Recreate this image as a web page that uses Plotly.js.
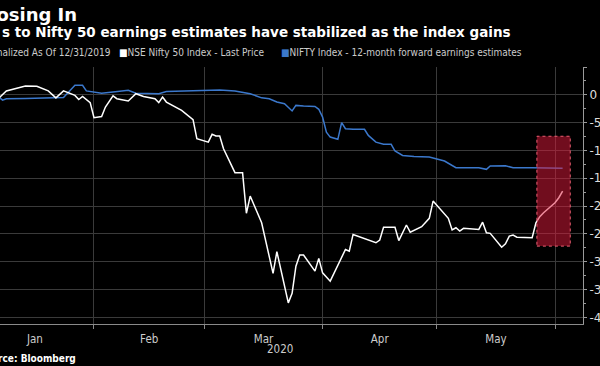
<!DOCTYPE html>
<html>
<head>
<meta charset="utf-8">
<script src="https://cdn.plot.ly/plotly-3.0.1.min.js"></script>
<style>
  html, body { margin: 0; padding: 0; background: #000; overflow: hidden; width: 600px; height: 366px; }
  #chart { position: absolute; left: -40px; top: 0; width: 680px; height: 366px; }
</style>
</head>
<body>
<div id="chart"></div>
<script>
// NSE Nifty 50 Index - Last Price, normalized (% change since 12/31/2019)
const niftyDates = ['2019-12-31','2020-01-07','2020-01-09','2020-01-14','2020-01-17','2020-01-20','2020-01-22','2020-01-24','2020-01-27','2020-01-28','2020-01-29','2020-01-31',
  '2020-02-01','2020-02-03','2020-02-04','2020-02-06','2020-02-07','2020-02-10','2020-02-12','2020-02-14','2020-02-17','2020-02-18','2020-02-19','2020-02-20','2020-02-24','2020-02-27','2020-02-28',
  '2020-03-02','2020-03-03','2020-03-04','2020-03-05','2020-03-06','2020-03-09','2020-03-11','2020-03-12','2020-03-13','2020-03-16','2020-03-17','2020-03-18','2020-03-19','2020-03-20','2020-03-23','2020-03-24','2020-03-25','2020-03-26','2020-03-27','2020-03-30','2020-03-31',
  '2020-04-01','2020-04-03','2020-04-07','2020-04-08','2020-04-09','2020-04-15','2020-04-16','2020-04-17','2020-04-20','2020-04-21','2020-04-23','2020-04-24','2020-04-27','2020-04-29','2020-04-30',
  '2020-05-04','2020-05-05','2020-05-06','2020-05-07','2020-05-08','2020-05-12','2020-05-13','2020-05-14','2020-05-15','2020-05-18','2020-05-19','2020-05-20','2020-05-21','2020-05-22','2020-05-26','2020-05-27','2020-05-28','2020-05-29',
  '2020-06-01','2020-06-02','2020-06-03'];
const niftyValues = [0,-0.6,0.7,1.6,1.55,0.7,-0.55,0.7,-0.1,-0.85,-0.3,-1.4,
  -4.1,-3.9,-2.2,-0.2,-0.7,-1.1,0.2,-0.3,-0.7,-1.4,-0.4,-1.3,-2.8,-4.45,-7.9,
  -8.5,-7.1,-7.4,-7.4,-9.7,-14.0,-14.0,-21.3,-18.2,-23.0,-25.9,-29.0,-32.1,-28.2,-37.4,-35.7,-30.8,-28.8,-28.8,-31.7,-29.4,
  -32.0,-33.5,-27.8,-28.1,-25.1,-26.6,-26.1,-23.8,-23.8,-26.2,-23.4,-24.7,-23.7,-22.2,-19.1,
  -22.2,-24.3,-23.9,-24.5,-24.0,-24.2,-22.9,-24.8,-24.9,-27.4,-26.8,-25.4,-25.2,-25.6,-25.7,-23.0,-21.9,-21.2,
  -19.4,-18.5,-17.3];

// NIFTY Index - 12-month forward earnings estimates, normalized
const epsDates = ['2019-12-31','2020-01-07','2020-01-08','2020-01-09','2020-01-14','2020-01-20','2020-01-24','2020-01-27','2020-01-29','2020-01-30',
  '2020-02-03','2020-02-06','2020-02-10','2020-02-12','2020-02-18','2020-02-20','2020-02-28',
  '2020-03-02','2020-03-05','2020-03-09','2020-03-11','2020-03-13','2020-03-16','2020-03-18','2020-03-20','2020-03-22','2020-03-24','2020-03-25','2020-03-27','2020-03-30','2020-03-31',
  '2020-04-01','2020-04-02','2020-04-03','2020-04-05','2020-04-06','2020-04-07','2020-04-09','2020-04-12','2020-04-13','2020-04-15','2020-04-17','2020-04-19','2020-04-20','2020-04-22','2020-04-25','2020-04-29',
  '2020-05-01','2020-05-03','2020-05-06','2020-05-12','2020-05-14','2020-05-15','2020-05-19','2020-05-21','2020-05-26',
  '2020-06-03'];
const epsValues = [0,-0.4,-0.95,-0.7,-0.65,-0.6,-0.5,1.7,1.7,0.7,
  0.3,0.5,0.8,0.3,0.2,0.6,0.8,
  0.9,0.85,0.7,0.5,0.2,-0.55,-0.7,-1.3,-1.6,-2.9,-1.9,-2.0,-2.1,-2.6,
  -4.0,-6.7,-7.6,-8.0,-5.0,-6.1,-6.2,-6.2,-7.3,-8.5,-8.9,-8.9,-10.1,-10.9,-11.1,-11.2,
  -11.5,-11.9,-13.1,-13.1,-13.4,-12.8,-12.75,-13.1,-13.1,
  -13.2];

const yTickVals = [5,0,-5,-10,-15,-20,-25,-30,-35,-40];
const yTickText = ['','0','-5','-10','-15','-20','-25','-30','-35','-40'];

const seriesNames = ['NSE Nifty 50 Index - Last Price','NIFTY Index - 12-month forward earnings estimates'];

// layout helpers (screen pixel -> paper)
const DIV_LEFT = -40, PLOT_W = 623, PLOT_TOP = 67, PLOT_BOT = 324;
const px = s => (s - DIV_LEFT) / PLOT_W;
const py = s => (PLOT_BOT - s) / (PLOT_BOT - PLOT_TOP);

const FONT = 'DejaVu Sans, sans-serif';
const FONT_C = 'DejaVu Sans Condensed, DejaVu Sans, sans-serif';

const traces = [
  { x: epsDates, y: epsValues, type: 'scatter', mode: 'lines', name: seriesNames[1],
    line: { color: '#3b78cc', width: 1.5 }, hoverinfo: 'skip' },
  { x: niftyDates, y: niftyValues, type: 'scatter', mode: 'lines', name: seriesNames[0],
    line: { color: '#ffffff', width: 1.5 }, hoverinfo: 'skip' }
];

const layout = {
  width: 680, height: 366,
  paper_bgcolor: '#000', plot_bgcolor: '#000',
  margin: { l: 0, r: 57, t: PLOT_TOP, b: 366 - PLOT_BOT, pad: 0 },
  showlegend: false,
  font: { family: FONT, color: '#cccccc' },
  xaxis: {
    type: 'date',
    range: ['2019-12-27 20:00', '2020-06-08 08:24'],
    tick0: '2020-01-01', dtick: 'M1', tickformat: '%b', ticklabelmode: 'period',
    showgrid: true, gridcolor: '#3a3a3a', gridwidth: 1,
    ticks: 'outside', ticklen: 4, tickcolor: '#8a8a8a',
    showline: true, linecolor: '#8a8a8a', linewidth: 1,
    tickfont: { family: FONT_C, size: 11.5, color: '#cccccc' },
    zeroline: false, fixedrange: true
  },
  yaxis: {
    side: 'right',
    range: [-41.2, 5],
    tickmode: 'array', tickvals: yTickVals, ticktext: yTickText,
    showgrid: true, gridcolor: '#3a3a3a', gridwidth: 1,
    ticks: 'outside', ticklen: 3, tickcolor: '#9a9a9a',
    minor: { dtick: 2.5, tick0: 0, ticks: 'outside', ticklen: 2, tickcolor: '#9a9a9a', showgrid: false },
    showline: true, linecolor: '#9a9a9a', linewidth: 1,
    tickfont: { family: FONT, size: 12, color: '#dddddd' },
    zeroline: false, fixedrange: true
  },
  shapes: [
    { type: 'rect', xref: 'x', yref: 'y', layer: 'above',
      x0: '2020-05-27 06:00', x1: '2020-06-05 00:00', y0: -27.2, y1: -7.45,
      fillcolor: 'rgba(225,25,60,0.5)',
      line: { color: 'rgb(235,95,115)', width: 1, dash: 'dot' } }
  ],
  annotations: [
    { text: '<b>Closing In</b>', xref: 'paper', yref: 'paper', x: px(79), y: py(14),
      xanchor: 'right', yanchor: 'middle', showarrow: false,
      font: { family: FONT, size: 18, color: '#ffffff' } },
    { text: '<b>s to Nifty 50 earnings estimates have stabilized as the index gains</b>', xref: 'paper', yref: 'paper',
      x: px(0), y: py(32), xanchor: 'left', yanchor: 'middle', showarrow: false,
      font: { family: FONT, size: 13.5, color: '#ffffff' } },
    { text: 'Normalized As Of 12/31/2019', xref: 'paper', yref: 'paper', x: px(113), y: py(53),
      xanchor: 'right', yanchor: 'middle', showarrow: false,
      font: { family: FONT_C, size: 10, color: '#cccccc' } },
    { text: '<span style="color:#ffffff">■</span>' + seriesNames[0], xref: 'paper', yref: 'paper', x: px(117), y: py(53),
      xanchor: 'left', yanchor: 'middle', showarrow: false,
      font: { family: FONT_C, size: 10, color: '#cccccc' } },
    { text: '<span style="color:#3b78cc">■</span>' + seriesNames[1], xref: 'paper', yref: 'paper', x: px(279), y: py(53),
      xanchor: 'left', yanchor: 'middle', showarrow: false,
      font: { family: FONT_C, size: 10, color: '#cccccc' } },
    { text: '2020', xref: 'paper', yref: 'paper', x: px(280), y: py(349),
      xanchor: 'center', yanchor: 'middle', showarrow: false,
      font: { family: FONT_C, size: 11.5, color: '#cccccc' } },
    { text: '<b>Source: Bloomberg</b>', xref: 'paper', yref: 'paper', x: px(78), y: py(358),
      xanchor: 'right', yanchor: 'middle', showarrow: false,
      font: { family: FONT_C, size: 10, color: '#ffffff' } }
  ]
};

Plotly.newPlot('chart', traces, layout, { staticPlot: true, displayModeBar: false });
</script>
</body>
</html>
